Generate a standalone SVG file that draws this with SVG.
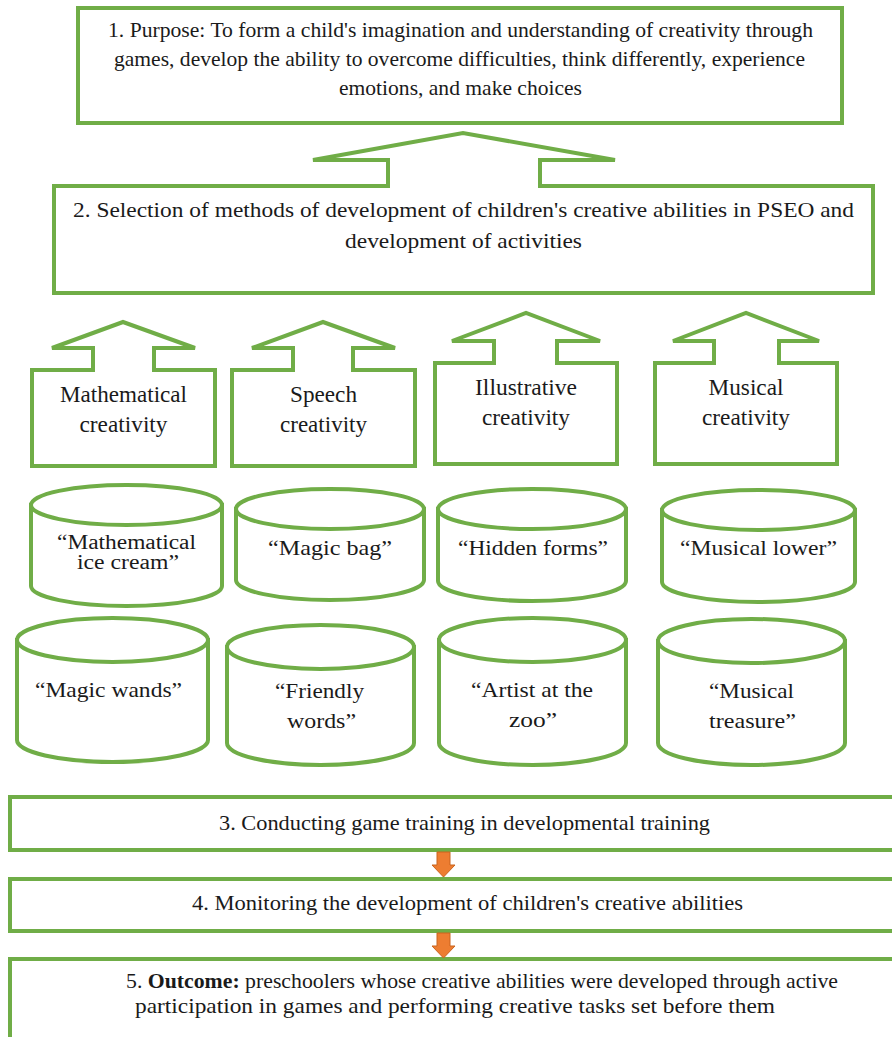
<svg xmlns="http://www.w3.org/2000/svg" width="892" height="1037" viewBox="0 0 892 1037">
<style>
.shape{fill:#ffffff;stroke:#70AD47;stroke-width:4;stroke-linejoin:miter}
.t{fill:#1a1a1a;font-family:"Liberation Serif","Times New Roman",serif}
.m{font-size:21px}
.s{font-size:23px;text-anchor:middle}
.c{font-size:22px}
.c2{font-size:20px}
.orange{fill:#ED7D31;stroke:#C9651F;stroke-width:1}
</style>
<rect width="892" height="1037" fill="#ffffff"/>

<g id="purpose">
<rect class="shape" x="78" y="8" width="764" height="115"/>
<text class="t m" x="108" y="37" textLength="705" lengthAdjust="spacingAndGlyphs">1. Purpose: To form a child's imagination and understanding of creativity through</text>
<text class="t m" x="114" y="66" textLength="691" lengthAdjust="spacingAndGlyphs">games, develop the ability to overcome difficulties, think differently, experience</text>
<text class="t m" x="339" y="95" textLength="243" lengthAdjust="spacingAndGlyphs">emotions, and make choices</text>
</g>

<g id="selection">
<path class="shape" d="M54,186 L388,186 L388,160 L313,160 L463,133 L615,160 L540,160 L540,186 L873,186 L873,293 L54,293 Z"/>
<text class="t m" x="73" y="217" textLength="781" lengthAdjust="spacingAndGlyphs">2. Selection of methods of development of children's creative abilities in PSEO and</text>
<text class="t m" x="345" y="248" textLength="237" lengthAdjust="spacingAndGlyphs">development of activities</text>
</g>

<g id="math-creativity">
<path class="shape" d="M32,370 L93,370 L93,348 L52,348 L123,322 L195,348 L154,348 L154,370 L215,370 L215,466 L32,466 Z"/>
<text class="t s" x="123.5" y="402" textLength="127" lengthAdjust="spacingAndGlyphs">Mathematical</text>
<text class="t s" x="123.5" y="432" textLength="88" lengthAdjust="spacingAndGlyphs">creativity</text>
</g>

<g id="speech-creativity">
<path class="shape" d="M232,370 L293,370 L293,348 L252,348 L323,322 L395,348 L353,348 L353,370 L415,370 L415,466 L232,466 Z"/>
<text class="t s" x="323.5" y="402" textLength="67" lengthAdjust="spacingAndGlyphs">Speech</text>
<text class="t s" x="323.5" y="432" textLength="87" lengthAdjust="spacingAndGlyphs">creativity</text>
</g>

<g id="illustrative-creativity">
<path class="shape" d="M435,363 L494,363 L494,341 L452,341 L526,313 L600,341 L557,341 L557,363 L617,363 L617,464 L435,464 Z"/>
<text class="t s" x="526" y="395" textLength="102" lengthAdjust="spacingAndGlyphs">Illustrative</text>
<text class="t s" x="526" y="425" textLength="88" lengthAdjust="spacingAndGlyphs">creativity</text>
</g>

<g id="musical-creativity">
<path class="shape" d="M655,363 L714,363 L714,341 L673,341 L746,313 L819,341 L779,341 L779,363 L837,363 L837,464 L655,464 Z"/>
<text class="t s" x="746" y="395" textLength="75" lengthAdjust="spacingAndGlyphs">Musical</text>
<text class="t s" x="746" y="425" textLength="88" lengthAdjust="spacingAndGlyphs">creativity</text>
</g>

<g id="cyl-math-ice-cream">
<path class="shape" d="M31,505 L31,586 A95.5,20 0 0 0 222,586 L222,505 Z"/>
<ellipse class="shape" cx="126.5" cy="505" rx="95.5" ry="20"/>
<text class="t c2" x="57" y="549" textLength="139" lengthAdjust="spacingAndGlyphs">“Mathematical</text>
<text class="t c2" x="77" y="569" textLength="102" lengthAdjust="spacingAndGlyphs">ice cream”</text>
</g>

<g id="cyl-magic-bag">
<path class="shape" d="M236,509 L236,580 A94,20 0 0 0 424,580 L424,509 Z"/>
<ellipse class="shape" cx="330" cy="509" rx="94" ry="20"/>
<text class="t c" x="268" y="555" textLength="124" lengthAdjust="spacingAndGlyphs">“Magic bag”</text>
</g>

<g id="cyl-hidden-forms">
<path class="shape" d="M438,509 L438,581 A94,20 0 0 0 626,581 L626,509 Z"/>
<ellipse class="shape" cx="532" cy="509" rx="94" ry="20"/>
<text class="t c" x="458" y="555" textLength="150" lengthAdjust="spacingAndGlyphs">“Hidden forms”</text>
</g>

<g id="cyl-musical-lower">
<path class="shape" d="M662,510 L662,582 A96.5,20 0 0 0 855,582 L855,510 Z"/>
<ellipse class="shape" cx="758.5" cy="510" rx="96.5" ry="20"/>
<text class="t c" x="680" y="555" textLength="157" lengthAdjust="spacingAndGlyphs">“Musical lower”</text>
</g>

<g id="cyl-magic-wands">
<path class="shape" d="M17,640 L17,740 A95.5,22 0 0 0 208,740 L208,640 Z"/>
<ellipse class="shape" cx="112.5" cy="640" rx="95.5" ry="22"/>
<text class="t c" x="35" y="697" textLength="147" lengthAdjust="spacingAndGlyphs">“Magic wands”</text>
</g>

<g id="cyl-friendly-words">
<path class="shape" d="M227,647 L227,743 A93.5,22 0 0 0 414,743 L414,647 Z"/>
<ellipse class="shape" cx="320.5" cy="647" rx="93.5" ry="22"/>
<text class="t c" x="275" y="698" textLength="89" lengthAdjust="spacingAndGlyphs">“Friendly</text>
<text class="t c" x="287" y="728" textLength="69" lengthAdjust="spacingAndGlyphs">words”</text>
</g>

<g id="cyl-artist-zoo">
<path class="shape" d="M439,640 L439,743 A93.5,22 0 0 0 626,743 L626,640 Z"/>
<ellipse class="shape" cx="532.5" cy="640" rx="93.5" ry="22"/>
<text class="t c" x="471" y="697" textLength="122" lengthAdjust="spacingAndGlyphs">“Artist at the</text>
<text class="t c" x="509" y="727" textLength="48" lengthAdjust="spacingAndGlyphs">zoo”</text>
</g>

<g id="cyl-musical-treasure">
<path class="shape" d="M658,641 L658,743 A93.5,22 0 0 0 845,743 L845,641 Z"/>
<ellipse class="shape" cx="751.5" cy="641" rx="93.5" ry="22"/>
<text class="t c" x="709" y="698" textLength="85" lengthAdjust="spacingAndGlyphs">“Musical</text>
<text class="t c" x="709" y="728" textLength="87" lengthAdjust="spacingAndGlyphs">treasure”</text>
</g>

<g id="conducting">
<rect class="shape" x="10" y="797" width="900" height="53"/>
<text class="t m" x="219" y="830" textLength="491" lengthAdjust="spacingAndGlyphs">3. Conducting game training in developmental training</text>
</g>

<g id="monitoring">
<rect class="shape" x="10" y="879" width="900" height="52"/>
<text class="t m" x="192" y="910" textLength="551" lengthAdjust="spacingAndGlyphs">4. Monitoring the development of children's creative abilities</text>
</g>

<g id="outcome">
<rect class="shape" x="10" y="959" width="900" height="100"/>
<text class="t m" x="126" y="988" textLength="712" lengthAdjust="spacingAndGlyphs">5. <tspan font-weight="bold">Outcome:</tspan> preschoolers whose creative abilities were developed through active</text>
<text class="t m" x="135" y="1013" textLength="640" lengthAdjust="spacingAndGlyphs">participation in games and performing creative tasks set before them</text>
</g>

<g id="connectors">
<path class="orange" d="M437,852 L450,852 L450,865 L455,865 L443.5,877 L432,865 L437,865 Z"/>
<path class="orange" d="M437,933 L450,933 L450,946 L455,946 L443.5,958 L432,946 L437,946 Z"/>
</g>
</svg>
